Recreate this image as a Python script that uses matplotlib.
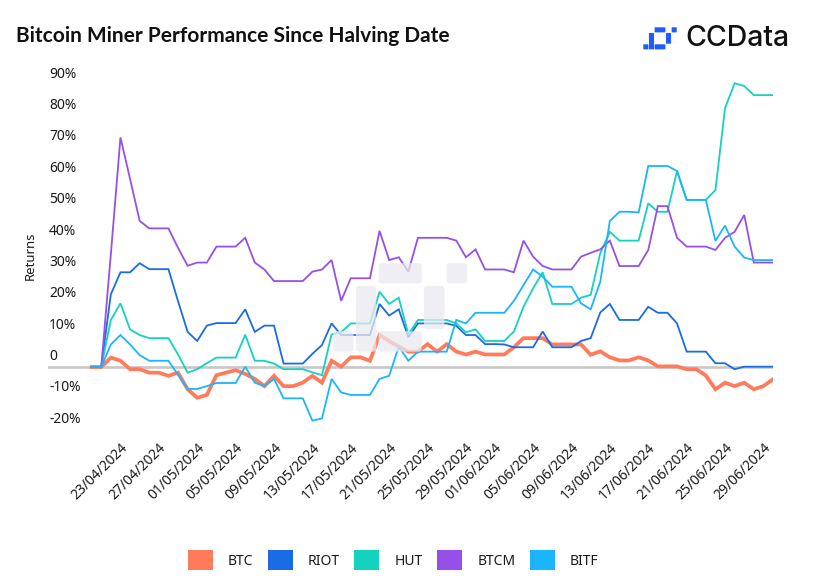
import numpy as np
import pandas as pd
import matplotlib
matplotlib.use("Agg")
import matplotlib.pyplot as plt
import matplotlib.dates as mdates
from matplotlib.patches import FancyBboxPatch, Patch
from matplotlib.transforms import IdentityTransform, blended_transform_factory, offset_copy

plt.rcParams['font.family'] = ['Noto Sans', 'DejaVu Sans']

# ---------------- data ----------------
dates = pd.date_range('2024-04-20', '2024-06-30', freq='D')

btc = [0, 0, 3.0, 2.0, -0.7, -0.7, -1.8, -1.8, -2.8, -1.8,
       -7.1, -9.8, -8.9, -2.6, -1.8, -1.0, -2.2, -3.8, -6.1, -2.8,
       -6.1, -6.1, -5.0, -2.8, -5.0, 2.0, 0.1, 3.1, 3.1, 2.0,
       10.2, 8.3, 6.5, 4.9, 4.9, 7.3, 4.9, 7.3, 4.9, 4.0,
       4.9, 4.0, 4.0, 4.0, 6.3, 9.2, 9.2, 9.2, 7.2, 7.2,
       7.2, 7.2, 3.9, 5.0, 3.1, 2.1, 2.1, 3.1, 2.1, 0.2,
       0.2, 0.2, -0.7, -0.7, -2.7, -7.1, -5.0, -6.1, -5.0, -7.1,
       -6.1, -3.9]
riot = [0, 0, 23.2, 30.2, 30.2, 33.1, 31.2, 31.2, 31.2, 21.0,
        11.2, 8.3, 13.2, 14.0, 14.0, 14.0, 18.4, 11.2, 13.2, 13.2,
        1.1, 1.1, 1.1, 4.2, 7.0, 13.9, 10.2, 10.2, 10.2, 10.2,
        20.1, 16.4, 18.4, 9.5, 13.9, 13.9, 13.9, 13.9, 13.1, 10.2,
        10.2, 7.3, 7.3, 7.2, 6.3, 6.3, 6.3, 11.3, 6.3, 6.3,
        6.3, 8.3, 9.2, 17.4, 20.1, 15.0, 15.0, 15.0, 19.2, 17.3,
        17.3, 13.9, 4.9, 4.9, 4.9, 1.2, 1.2, -0.7, 0.1, 0.1,
        0.1, 0.1]
hut = [0, 0, 15.0, 20.3, 12.0, 10.2, 9.2, 9.2, 9.2, 4.0,
       -1.8, -0.7, 1.2, 3.0, 3.0, 3.0, 10.3, 2.0, 2.0, 1.1,
       -0.7, -0.7, -0.7, -1.7, -2.6, 10.4, 11.1, 13.9, 13.9, 13.9,
       24.0, 20.1, 22.1, 10.4, 15.0, 15.0, 15.0, 15.0, 13.9, 11.1,
       12.0, 8.3, 8.3, 8.3, 11.3, 19.2, 25.1, 30.2, 20.1, 20.1,
       20.1, 22.1, 23.0, 36.3, 43.1, 40.3, 40.3, 40.3, 52.2, 49.5,
       49.5, 62.5, 53.3, 53.3, 53.3, 56.4, 82.5, 90.5, 89.6, 86.7,
       86.7, 86.7]
btcm = [0, 0, 36.0, 73.2, 60.0, 46.6, 44.2, 44.2, 44.2, 38.0,
        32.3, 33.3, 33.3, 38.4, 38.4, 38.4, 41.2, 33.3, 31.1, 27.4,
        27.4, 27.4, 27.4, 30.4, 31.1, 34.1, 21.1, 28.3, 28.3, 28.3,
        43.4, 34.1, 35.0, 30.4, 41.2, 41.2, 41.2, 41.2, 40.3, 35.0,
        37.5, 31.1, 31.1, 31.1, 30.2, 40.3, 35.2, 32.2, 31.1, 31.1,
        31.1, 35.2, 36.4, 37.5, 40.3, 32.2, 32.2, 32.2, 37.3, 51.3,
        51.3, 41.2, 38.4, 38.4, 38.4, 37.3, 41.2, 43.1, 48.5, 33.3,
        33.3, 33.3]
bitf = [0, 0, 7.2, 10.2, 7.2, 3.8, 2.0, 2.0, 2.0, -2.5,
        -7.0, -7.0, -6.1, -5.1, -5.1, -5.1, 0.1, -5.0, -6.1, -3.8,
        -10.0, -10.0, -10.0, -17.1, -16.4, -3.8, -8.1, -8.9, -8.9, -8.9,
        -3.8, -2.8, 6.5, 2.0, 4.9, 4.9, 4.9, 4.9, 15.0, 13.9,
        17.3, 17.3, 17.3, 17.3, 21.1, 26.1, 31.1, 28.8, 25.6, 25.6,
        25.6, 20.3, 18.4, 27.2, 46.6, 49.5, 49.5, 49.3, 64.1, 64.1,
        64.1, 62.5, 53.3, 53.3, 53.3, 40.2, 45.1, 38.4, 34.9, 34.1,
        34.1, 34.1]

series_names = ['BTC', 'RIOT', 'HUT', 'BTCM', 'BITF']
series_vals = [btc, riot, hut, btcm, bitf]
colors = ['#FF7B5C', '#1A6BE6', '#14D1C0', '#9650E8', '#1AB4FF']
widths = [2.7, 1.3, 1.3, 1.3, 1.3]

ytick_vals = [90, 80, 70, 60, 50, 40, 30, 20, 10, 0, -10, -20]
ytick_labels = ['90%', '80%', '70%', '60%', '50%', '40%', '30%', '20%', '10%', '0', '-10%', '-20%']
xtick_dates = ['2024-04-23', '2024-04-27', '2024-05-01', '2024-05-05', '2024-05-09',
               '2024-05-13', '2024-05-17', '2024-05-21', '2024-05-25', '2024-05-29',
               '2024-06-01', '2024-06-05', '2024-06-09', '2024-06-13', '2024-06-17',
               '2024-06-21', '2024-06-25', '2024-06-29']

# ---------------- figure ----------------
W, H = 826, 583
fig = plt.figure(figsize=(W / 100, H / 100), dpi=100)
fig.patch.set_facecolor('white')

ax_left, ax_right, ax_top, ax_bot = 48, 773, 78.5, 436.0
ax = fig.add_axes([ax_left / W, (H - ax_bot) / H, (ax_right - ax_left) / W, (ax_bot - ax_top) / H])
ax.set_facecolor('none')
for s in ax.spines.values():
    s.set_visible(False)

ax.axhline(0, color='#C8C8C8', lw=1.9, zorder=1)
for name, vals, c, lw in zip(series_names, series_vals, colors, widths):
    ax.plot(dates, vals, color=c, lw=lw, solid_joinstyle='miter', zorder=2)

ax.set_ylim(-22, 92)
ax.set_xlim(dates[0] - pd.Timedelta(days=4.55), dates[-1])

ax.set_yticks([])
xt = pd.to_datetime(xtick_dates)
ax.set_xticks(xt)
ax.set_xticklabels([d.strftime('%d/%m/%Y') for d in xt], rotation=45, ha='right',
                   va='top', rotation_mode='anchor', fontsize=10, color='#1a1a1a')
ax.tick_params(axis='x', length=0, pad=3)

ytrans = offset_copy(blended_transform_factory(ax.transAxes, ax.transData), fig=fig,
                     x=1, y=10.5, units='dots')
for v, lab in zip(ytick_vals, ytick_labels):
    ax.text(0, v, lab, transform=ytrans, ha='left', va='center', fontsize=10, color='#1a1a1a')

fig.text(30 / W, 1 - 256 / H, 'Returns', rotation=90, ha='center', va='center',
         fontsize=9.5, color='#1a1a1a')

# title and brand
fig.text(16 / W, 1 - 36 / H, 'Bitcoin Miner Performance Since Halving Date',
         fontsize=15, fontweight='bold', family=['Lato', 'DejaVu Sans'],
         ha='left', va='center', color='#111111')
fig.text(685 / W, 1 - 38 / H, 'CCData', fontsize=20.5, fontweight='medium',
         family=['Inter', 'Lato', 'DejaVu Sans'], ha='left', va='center', color='#111111')

pieces = [(0, 3, 1, 4), (1, 1, 2, 4), (2, 0, 4, 1), (2, 3, 4, 4), (4, 1, 5, 3), (5, 0, 6, 1)]

def draw_logo(x0, y0, u, color, alpha, z, rnd):
    for c0, r0, c1, r1 in pieces:
        gx = 0.05 * u
        x = x0 + c0 * u + gx
        y = y0 + r0 * u + gx
        w = (c1 - c0) * u - 2 * gx
        h = (r1 - r0) * u - 2 * gx
        p = FancyBboxPatch((x, H - y - h), w, h, boxstyle=f'round,pad=0,rounding_size={rnd}',
                           transform=IdentityTransform(), facecolor=color, edgecolor='none',
                           alpha=alpha, zorder=z)
        fig.add_artist(p)

draw_logo(643, 27, 5.67, '#1F5BFF', 1.0, 5, 0.5)
draw_logo(332, 262, 22.7, '#EAEAF0', 0.75, 10, 3)

# legend
handles = [Patch(facecolor=c, edgecolor='none') for c in colors]
fig.legend(handles, series_names, loc='center', bbox_to_anchor=(0.476, 1 - 560 / H), ncol=5,
           frameon=False, fontsize=10, handlelength=1.8, handleheight=1.73,
           handletextpad=1.08, columnspacing=1.05, borderpad=0, labelcolor='#1a1a1a')

fig.savefig('out.png', dpi=100)
